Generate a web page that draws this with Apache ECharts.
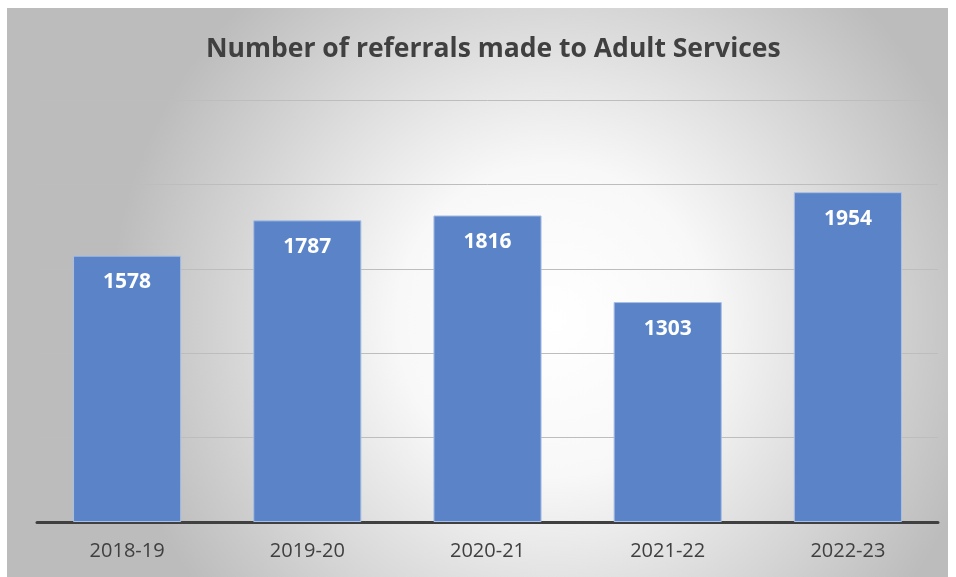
<!DOCTYPE html>
<html><head><meta charset="utf-8">
<script src="https://cdn.jsdelivr.net/npm/echarts@6/dist/echarts.min.js"></script>
<style>html,body{margin:0;padding:0;background:#fff;}#c{position:absolute;left:7px;top:8px;width:941px;height:569px;}</style>
</head><body><div id="c"></div>
<script>
const categories = ['2018-19','2019-20','2020-21','2021-22','2022-23'];
const referrals = [1578,1787,1816,1303,1954];
const chart = echarts.init(document.getElementById('c'));
chart.setOption({
  backgroundColor: {type:'radial',x:0.58,y:0.55,r:0.78,colorStops:[{offset:0,color:'#ffffff'},{offset:0.35,color:'#f8f8f8'},{offset:1,color:'#bcbcbc'}]},
  title:{text:'Number of referrals made to Adult Services',left:194,top:23,
    textStyle:{fontFamily:'Open Sans',fontWeight:'bold',fontSize:26.5,color:'#404040'}},
  grid:{left:30,right:10,top:92,bottom:55},
  xAxis:{type:'category',data:categories,
    axisLine:{lineStyle:{color:'#404040',width:3}},axisTick:{show:false},
    axisLabel:{color:'#404040',fontSize:20,fontFamily:'Open Sans',margin:19}},
  yAxis:{type:'value',min:0,max:2500,interval:500,axisLabel:{show:false},axisLine:{show:false},axisTick:{show:false},
    splitLine:{lineStyle:{color:'#bdbdbd',width:1}}},
  series:[{type:'bar',data:referrals,barCategoryGap:'40%',
    itemStyle:{color:'#5b84c8',borderColor:'#a9bfe4',borderWidth:1},
    label:{show:true,position:'insideTop',distance:16,color:'#fff',fontWeight:'bold',fontSize:21,fontFamily:'Open Sans'}}]
});
</script></body></html>
